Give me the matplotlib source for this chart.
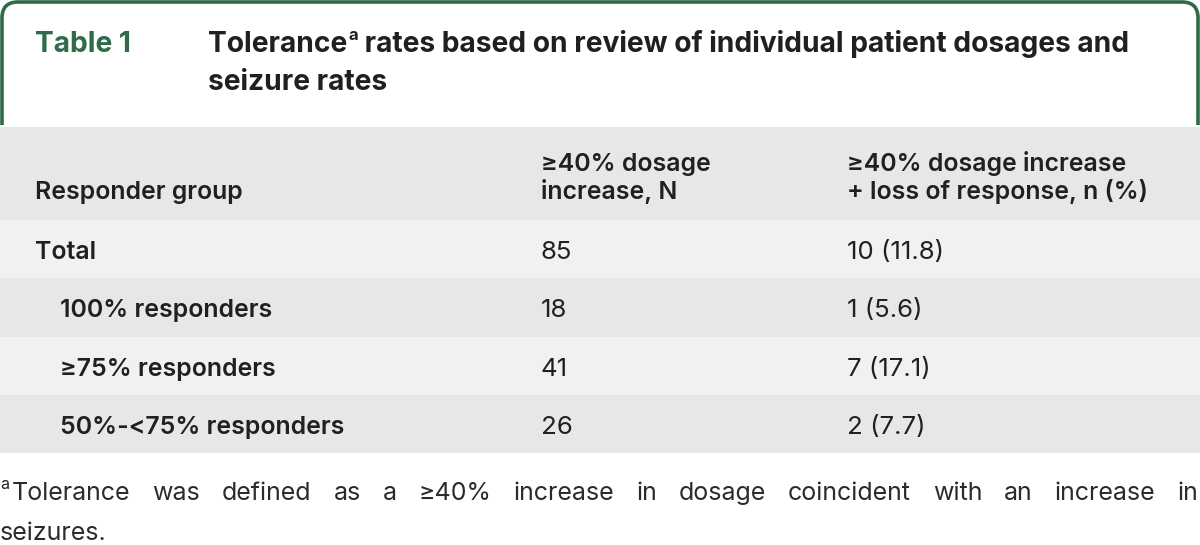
import matplotlib as mpl
import matplotlib.pyplot as plt
from matplotlib.path import Path
from matplotlib.patches import PathPatch

# table data
groups = ['Total', '100% responders', '≥75% responders', '50%-<75% responders']
indent = [False, True, True, True]
n_increase = [85, 18, 41, 26]
n_loss = [10, 1, 7, 2]
pct_loss = ['11.8', '5.6', '17.1', '7.7']

col_headers = ['Responder group',
               '≥40% dosage\nincrease, N',
               '≥40% dosage increase\n+ loss of response, n (%)']
table_label = 'Table 1'
title_lines = ['Tolerance', 'a', ' rates based on review of individual patient dosages and', 'seizure rates']
footnote_words = ('Tolerance was defined as a ≥40% increase in dosage coincident '
                  'with an increase in').split()
footnote_last = 'seizures.'

GREEN = '#2f6b48'
TEXT = '#231f20'
BAND_DARK = '#e6e7e7'
BAND_LIGHT = '#f1f1f1'
FONT = 'Inter'

TITLE_FS = 20.3
BODY_FS = 17.9
NUM_FS = 18.6
FOOT_FS = 18

W, H = 1200, 545
fig = plt.figure(figsize=(W / 100, H / 100), dpi=100, facecolor='white')
ax = fig.add_axes([0, 0, 1, 1])
ax.set_xlim(0, W)
ax.set_ylim(H, 0)
ax.axis('off')

# green frame round the caption (open at the bottom)
r = 16
verts = [(2, 125), (2, 2 + r), (2, 2), (2 + r, 2), (W - 2 - r, 2), (W - 2, 2),
         (W - 2, 2 + r), (W - 2, 125)]
codes = [Path.MOVETO, Path.LINETO, Path.CURVE3, Path.CURVE3, Path.LINETO,
         Path.CURVE3, Path.CURVE3, Path.LINETO]
ax.add_patch(PathPatch(Path(verts, codes), fill=False, edgecolor=GREEN, lw=2.6,
                       capstyle='butt'))

# row bands
header_top, header_bot = 127, 220
row_h = 58.3
ax.axhspan(header_top, header_bot, color=BAND_DARK, lw=0)
for i in range(len(groups)):
    y0 = header_bot + i * row_h
    ax.axhspan(y0, y0 + row_h, color=BAND_LIGHT if i % 2 == 0 else BAND_DARK, lw=0)

fig.canvas.draw()
renderer = fig.canvas.get_renderer()

def width_px(t):
    return t.get_window_extent(renderer).width

# caption
ax.text(35, 52, table_label, color=GREEN, fontsize=TITLE_FS, fontweight='bold',
        family=FONT, va='baseline')
x = 208
t = ax.text(x, 52, title_lines[0], color=TEXT, fontsize=TITLE_FS, fontweight='bold',
            family=FONT, va='baseline')
x += width_px(t) + 1
t = ax.text(x, 40, title_lines[1], color=TEXT, fontsize=12, fontweight='bold',
            family=FONT, va='baseline')
x += width_px(t)
ax.text(x, 52, title_lines[2], color=TEXT, fontsize=TITLE_FS, fontweight='bold',
        family=FONT, va='baseline')
ax.text(208, 90, title_lines[3], color=TEXT, fontsize=TITLE_FS, fontweight='bold',
        family=FONT, va='baseline')

# header
col_x = [35, 541, 847]
ax.text(col_x[0], 199, col_headers[0], color=TEXT, fontsize=BODY_FS, fontweight='semibold',
        family=FONT, va='baseline')
for cx, h in zip(col_x[1:], col_headers[1:]):
    for k, line in enumerate(h.split('\n')):
        ax.text(cx, 171 + 28 * k, line, color=TEXT, fontsize=BODY_FS, fontweight='semibold',
                family=FONT, va='baseline')

# body rows
for i, g in enumerate(groups):
    yb = header_bot + i * row_h + 39
    ax.text(60 if indent[i] else 35, yb, g, color=TEXT, fontsize=BODY_FS,
            fontweight='semibold', family=FONT, va='baseline')
    ax.text(col_x[1], yb, str(n_increase[i]), color=TEXT, fontsize=NUM_FS,
            family=FONT, va='baseline')
    ax.text(col_x[2], yb, f'{n_loss[i]} ({pct_loss[i]})', color=TEXT, fontsize=NUM_FS,
            family=FONT, va='baseline')

# footnote, justified first line
sup = ax.text(0, 489, 'a', color=TEXT, fontsize=11.5, family=FONT, va='baseline')
start = width_px(sup) + 3
words = [ax.text(0, 500, w, color='#2b2b2b', fontsize=FOOT_FS, family=FONT, va='baseline')
         for w in footnote_words]
widths = [width_px(w) for w in words]
gap = (W - 2 - start - sum(widths)) / (len(words) - 1)
x = start
for w, wd in zip(words, widths):
    w.set_x(x)
    x += wd + gap
ax.text(0, 540, footnote_last, color='#2b2b2b', fontsize=FOOT_FS, family=FONT, va='baseline')

fig.savefig('out.png', dpi=100, facecolor='white')
